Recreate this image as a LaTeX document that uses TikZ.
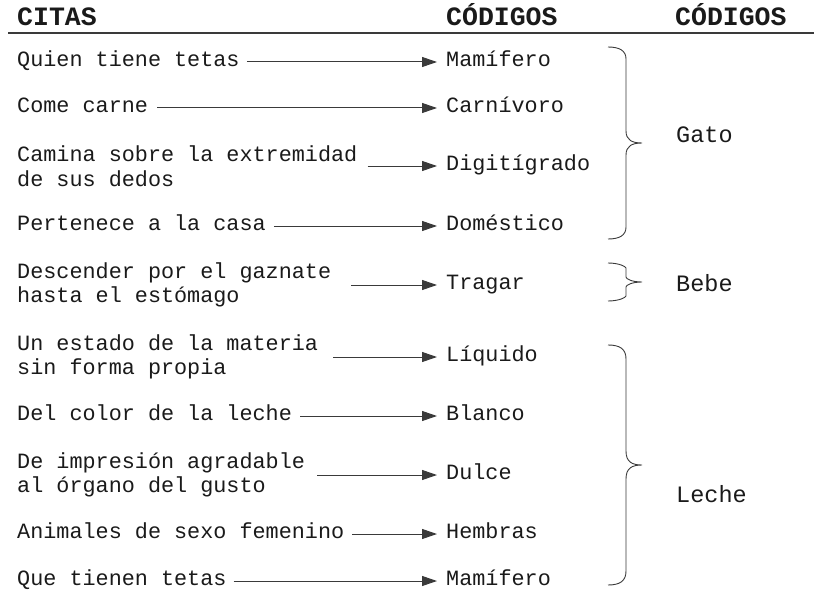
\documentclass[tikz,border=0pt]{standalone}
\usepackage{fontspec}
\setmonofont{Liberation Mono}
\usetikzlibrary{arrows.meta}
\definecolor{tinta}{HTML}{1A1A1A}
\definecolor{trazo}{HTML}{3A3A3A}
\tikzset{
titulo/.style = { anchor = base west, inner sep = 0, text = tinta, font = \ttfamily\bfseries\fontsize{26.5}{30}\selectfont },
cita/.style = { anchor = west, inner sep = 0, align = left, text = tinta, font = \ttfamily\fontsize{21.8}{24.5}\selectfont },
linea/.style = { text height = 15pt, text depth = 6pt },
codigo/.style = { cita, linea },
grupo/.style = { anchor = west, inner sep = 0, text = tinta, font = \ttfamily\fontsize{23.5}{26}\selectfont },
flecha/.style = { draw = trazo, line width = 1pt, -{Triangle[length=15pt,width=10pt]}, shorten > = 9pt },
llave/.style = { draw = trazo, line width = 0.9pt }
}
% llave: arriba, punta, abajo, curva
\newcommand{\llave}[4]{
\draw[llave] (608,#1) .. controls (620,#1) and (626,#1+4) .. (626,#1+#4) -- (626,#2-#4)
  .. controls (626,#2-3) and (632,#2) .. (642,#2) .. controls (632,#2) and (626,#2+3) .. (626,#2+#4)
  -- (626,#3-#4) .. controls (626,#3-4) and (620,#3) .. (608,#3);
}

\begin{document}
\begin{tikzpicture}[x=1pt, y=-1pt]
	\useasboundingbox (0,0) rectangle (824,599);
	% cabecera
	\node[titulo] (t1) at (17,26) {CITAS};
	\node[titulo] (t2) at (446,26) {CÓDIGOS};
	\node[titulo] (t3) at (675,26) {CÓDIGOS};
	\draw[trazo, line width = 1.2pt] (8,33) -- (814,33);

	% citas
	\node[cita, linea] (c1) at (17,62) {Quien tiene tetas};
	\node[cita, linea] (c2) at (17,108) {Come carne};
	\node[cita] (c3) at (17,166) {Camina sobre la extremidad\\de sus dedos};
	\node[cita, linea] (c4) at (17,226) {Pertenece a la casa};
	\node[cita] (c5) at (17,285) {Descender por el gaznate\\hasta el estómago};
	\node[cita] (c6) at (17,357) {Un estado de la materia\\sin forma propia};
	\node[cita, linea] (c7) at (17,416) {Del color de la leche};
	\node[cita] (c8) at (17,475) {De impresión agradable\\al órgano del gusto};
	\node[cita, linea] (c9) at (17,534) {Animales de sexo femenino};
	\node[cita, linea] (c10) at (17,581) {Que tienen tetas};

	% codigos
	\node[codigo] (k1) at (446,62) {Mamífero};
	\node[codigo] (k2) at (446,108) {Carnívoro};
	\node[codigo] (k3) at (446,166) {Digitígrado};
	\node[codigo] (k4) at (446,226) {Doméstico};
	\node[codigo] (k5) at (446,285) {Tragar};
	\node[codigo] (k6) at (446,357) {Líquido};
	\node[codigo] (k7) at (446,416) {Blanco};
	\node[codigo] (k8) at (446,475) {Dulce};
	\node[codigo] (k9) at (446,534) {Hembras};
	\node[codigo] (k10) at (446,581) {Mamífero};

	\draw[flecha] ([xshift=7pt]c1.east) -- (k1.west);
	\draw[flecha] ([xshift=9pt]c2.east) -- (k2.west);
	\draw[flecha] ([xshift=10pt]c3.east) -- (k3.west);
	\draw[flecha] ([xshift=8pt]c4.east) -- (k4.west);
	\draw[flecha] ([xshift=20pt]c5.east) -- (k5.west);
	\draw[flecha] ([xshift=15pt]c6.east) -- (k6.west);
	\draw[flecha] ([xshift=8pt]c7.east) -- (k7.west);
	\draw[flecha] ([xshift=12pt]c8.east) -- (k8.west);
	\draw[flecha] ([xshift=8pt]c9.east) -- (k9.west);
	\draw[flecha] ([xshift=7pt]c10.east) -- (k10.west);

	% grupos
	\llave{47}{143}{239}{12}
	\llave{263}{282}{301}{5}
	\llave{345}{465}{585}{14}
	\node[grupo] (g1) at (676,135) {Gato};
	\node[grupo] (g2) at (676,283) {Bebe};
	\node[grupo] (g3) at (676,494) {Leche};
\end{tikzpicture}
\end{document}
